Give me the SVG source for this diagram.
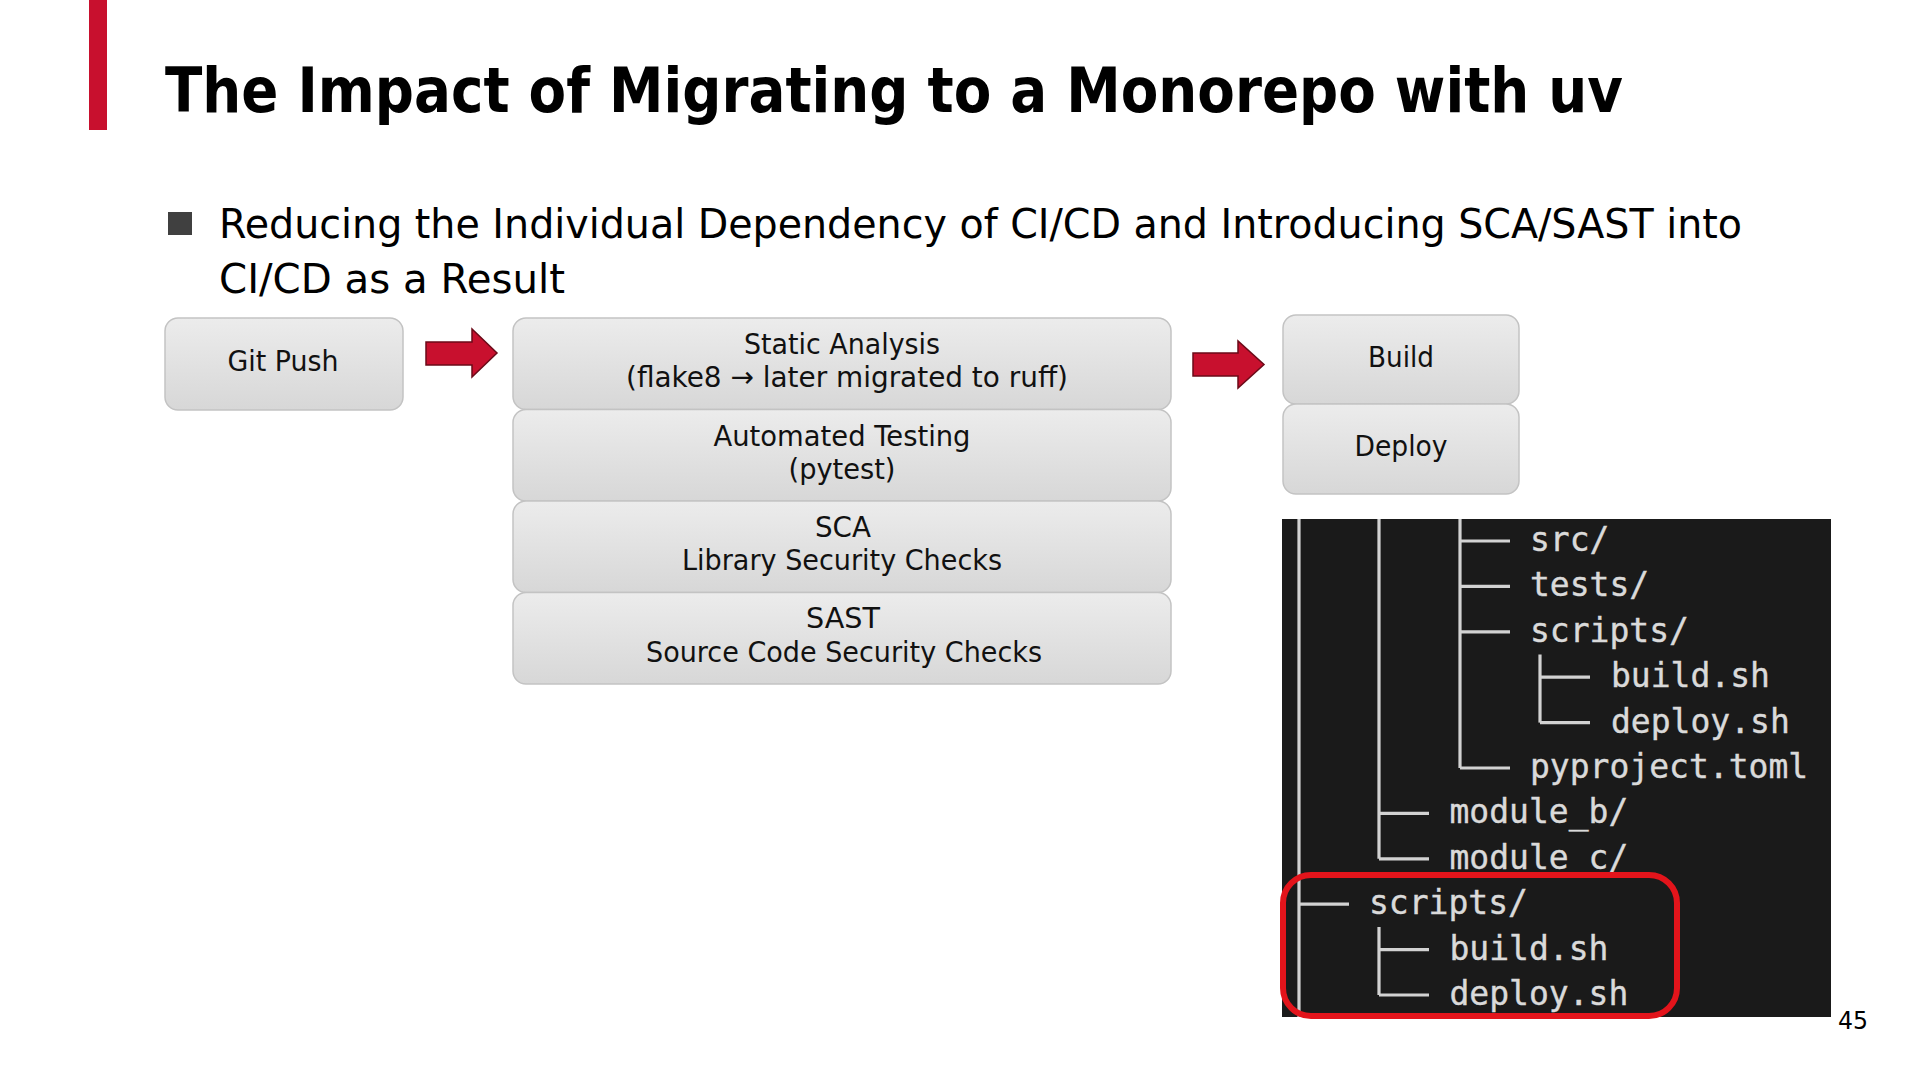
<svg xmlns="http://www.w3.org/2000/svg" width="1920" height="1080" viewBox="0 0 1920 1080">
  <defs>
    <linearGradient id="boxg" x1="0" y1="0" x2="0" y2="1">
      <stop offset="0" stop-color="#ececec"/>
      <stop offset="1" stop-color="#d7d7d7"/>
    </linearGradient>
    <style>
      .box { fill: url(#boxg); stroke: #c3c3c3; stroke-width: 1.5; }
      .bt { font-family: "DejaVu Sans", "Liberation Sans", sans-serif; font-size: 29px; fill: #111; text-anchor: middle; }
      .arrow { fill: #c8102e; stroke: #6b0a18; stroke-width: 1.5; stroke-linejoin: miter; }
      .tl { stroke: #d2d2d2; stroke-width: 3.2; fill: none; }
      .tt { font-family: "DejaVu Sans Mono", "Liberation Mono", monospace; font-size: 33px; fill: #dadada; stroke: #dadada; stroke-width: 0.4; }
    </style>
  </defs>

  <rect x="0" y="0" width="1920" height="1080" fill="#ffffff"/>

  <!-- header -->
  <rect x="89" y="0" width="18" height="130" fill="#c8102e"/>
  <text x="165" y="112" font-family="DejaVu Sans, Liberation Sans, sans-serif" font-weight="bold" font-size="62" fill="#000" textLength="1458" lengthAdjust="spacingAndGlyphs">The Impact of Migrating to a Monorepo with uv</text>

  <!-- bullet -->
  <rect x="168" y="212" width="24" height="23" fill="#404040"/>
  <text x="219" y="238" font-family="DejaVu Sans, Liberation Sans, sans-serif" font-size="41" fill="#000" textLength="1523" lengthAdjust="spacingAndGlyphs">Reducing the Individual Dependency of CI/CD and Introducing SCA/SAST into</text>
  <text x="219" y="293" font-family="DejaVu Sans, Liberation Sans, sans-serif" font-size="41" fill="#000" textLength="346" lengthAdjust="spacingAndGlyphs">CI/CD as a Result</text>

  <!-- nodes -->
  <g id="git-push">
    <rect class="box" x="165" y="318" width="238" height="92" rx="13"/>
    <text class="bt" x="283" y="371" textLength="111" lengthAdjust="spacingAndGlyphs">Git Push</text>
  </g>

  <g id="static-analysis">
    <rect class="box" x="513" y="318" width="658" height="91.5" rx="13"/>
    <text class="bt" x="842" y="354" textLength="196" lengthAdjust="spacingAndGlyphs">Static Analysis</text>
    <text class="bt" x="847" y="387" textLength="442" lengthAdjust="spacingAndGlyphs">(flake8 → later migrated to ruff)</text>
  </g>

  <g id="automated-testing">
    <rect class="box" x="513" y="409.5" width="658" height="91.5" rx="13"/>
    <text class="bt" x="842" y="446" textLength="257" lengthAdjust="spacingAndGlyphs">Automated Testing</text>
    <text class="bt" x="842" y="479" textLength="107" lengthAdjust="spacingAndGlyphs">(pytest)</text>
  </g>

  <g id="sca">
    <rect class="box" x="513" y="501" width="658" height="91.5" rx="13"/>
    <text class="bt" x="843" y="537" textLength="56" lengthAdjust="spacingAndGlyphs">SCA</text>
    <text class="bt" x="842" y="570" textLength="320" lengthAdjust="spacingAndGlyphs">Library Security Checks</text>
  </g>

  <g id="sast">
    <rect class="box" x="513" y="592.5" width="658" height="91.5" rx="13"/>
    <text class="bt" x="843" y="628" textLength="74" lengthAdjust="spacingAndGlyphs">SAST</text>
    <text class="bt" x="844" y="662" textLength="396" lengthAdjust="spacingAndGlyphs">Source Code Security Checks</text>
  </g>

  <g id="build">
    <rect class="box" x="1283" y="315" width="236" height="89" rx="13"/>
    <text class="bt" x="1401" y="367" textLength="66" lengthAdjust="spacingAndGlyphs">Build</text>
  </g>

  <g id="deploy">
    <rect class="box" x="1283" y="404" width="236" height="90" rx="13"/>
    <text class="bt" x="1401" y="456" textLength="93" lengthAdjust="spacingAndGlyphs">Deploy</text>
  </g>

  <!-- connectors -->
  <g id="connectors">
    <polygon class="arrow" points="426,342 472,342 472,329 497,353 472,377 472,365 426,365"/>
    <polygon class="arrow" points="1193,353 1238,353 1238,341 1264,364.5 1238,388 1238,376 1193,376"/>
  </g>

  <!-- terminal screenshot of directory tree -->
  <g id="terminal">
    <rect x="1282" y="519" width="549" height="498" fill="#1a1a1a"/>
    <g id="tree-lines">
      <path class="tl" d="M1299 519 V1017"/>
      <path class="tl" d="M1379 519 V858.8 M1379 927 V995"/>
      <path class="tl" d="M1460 519 V768"/>
      <path class="tl" d="M1540 654.5 V722.6"/>
      <path class="tl" d="M1460 541 H1510 M1460 586.4 H1510 M1460 631.8 H1510 M1460 768 H1510"/>
      <path class="tl" d="M1540 677.2 H1590 M1540 722.6 H1590"/>
      <path class="tl" d="M1379 813.4 H1429 M1379 858.8 H1429"/>
      <path class="tl" d="M1299 904.2 H1349"/>
      <path class="tl" d="M1379 949.6 H1429 M1379 995 H1429"/>
    </g>
    <text class="tt" x="1530" y="551">src/</text>
    <text class="tt" x="1530" y="596.4">tests/</text>
    <text class="tt" x="1530" y="641.8">scripts/</text>
    <text class="tt" x="1611" y="687.2">build.sh</text>
    <text class="tt" x="1611" y="732.6">deploy.sh</text>
    <text class="tt" x="1530" y="778">pyproject.toml</text>
    <text class="tt" x="1449.5" y="823.4">module_b/</text>
    <text class="tt" x="1449.5" y="868.8">module_c/</text>
    <text class="tt" x="1369" y="914.2">scripts/</text>
    <text class="tt" x="1449.5" y="959.6">build.sh</text>
    <text class="tt" x="1449.5" y="1005">deploy.sh</text>
  </g>

  <g id="highlight">
    <rect x="1283" y="875" width="394" height="141" rx="28" fill="none" stroke="#e3141b" stroke-width="6"/>
  </g>

  <text x="1838" y="1029" font-family="DejaVu Sans, Liberation Sans, sans-serif" font-size="24" fill="#000" textLength="30" lengthAdjust="spacingAndGlyphs">45</text>
</svg>
